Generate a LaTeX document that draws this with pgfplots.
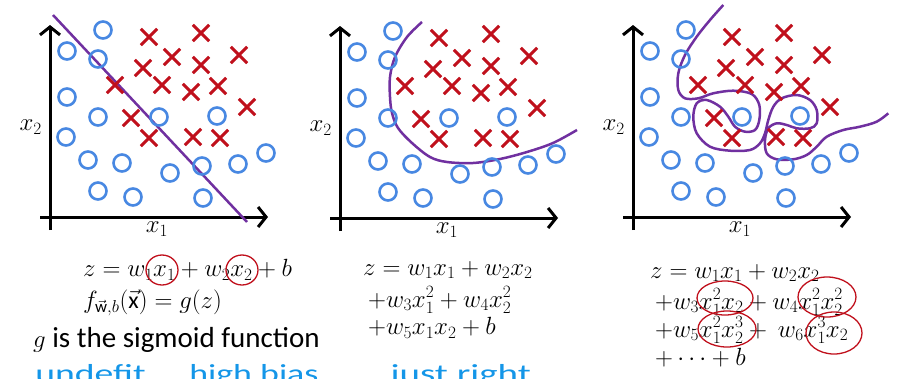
\documentclass[border=0pt]{standalone}
\usepackage{fontspec}
\setmainfont{Carlito}
\usepackage{pgfplots}
\usepackage{pgfplotstable}
\pgfplotsset{compat=1.18}
\usetikzlibrary{arrows.meta}

\definecolor{cblue}{RGB}{72,136,226}
\definecolor{cred}{RGB}{192,16,28}
\definecolor{cpurple}{RGB}{112,48,160}
\definecolor{hblue}{RGB}{20,150,232}

\pgfplotstableread{
x y
53 187
17 166
48 158
17 120
48 100
109 100
167 101
16 80
38 57
72 54
120 44
152 51
188 53
216 64
48 26
83 20
153 19
}\circles

\pgfplotstableread{
x y
99 180
151 184
122 160
93 149
151 152
189 162
65 132
112 132
141 125
168 131
197 110
81 99
99 79
143 80
170 79
}\crosses

\pgfplotsset{
  panel/.style={
    x=1pt, y=1pt,
    xmin=-10, xmax=218, ymin=-13, ymax=192,
    enlargelimits=false,
    axis lines=middle,
    axis line style={line width=3pt, -{Straight Barb[length=8pt,width=20pt]}},
    xtick=\empty, ytick=\empty,
    clip=false,
    anchor=origin,
    xlabel={$x_1$}, ylabel={$x_2$},
    xlabel style={at={(axis cs:107,-5)}, anchor=north, inner sep=0pt, font=\fontsize{24}{28}\selectfont},
    ylabel style={at={(axis cs:-8,90)}, anchor=east, rotate=0, inner sep=0pt, font=\fontsize{24}{28}\selectfont},
  },
  circ/.style={only marks, mark=o, mark size=8.5pt, line width=2.6pt, cblue},
  cros/.style={only marks, mark=x, mark size=11.5pt, line width=3pt, cred},
  bound/.style={no marks, cpurple, line width=2.5pt, smooth, tension=0.55},
}

\begin{document}
\begin{tikzpicture}
\useasboundingbox (0,0) rectangle (907pt,-378pt);
\clip (0,0) rectangle (907pt,-378pt);

% Panel 1
\begin{axis}[panel, at={(50pt,-217pt)}]
\addplot[circ] table {\circles};
\addplot[cros] table {\crosses};
\addplot[no marks, cpurple, line width=2.5pt] coordinates {(3,202) (197,-5)};
\end{axis}

% Panel 2
\begin{axis}[panel, at={(340pt,-218pt)}]
\addplot[circ] table {\circles};
\addplot[cros] table {\crosses};
\addplot[bound] coordinates {
(82,196) (67,181) (55,161) (50,141) (50,121) (52,105) (58,90) (72,75)
(90,61) (107,56) (133,55) (160,59) (187,66) (213,75) (237,88)};
\end{axis}

% Panel 3
\begin{axis}[panel, at={(633pt,-217pt)}]
\addplot[circ] table {\circles};
\addplot[cros] table {\crosses};
\addplot[bound] coordinates {
(90.3,212) (77,197) (63.7,180.3) (52,162) (45.3,143.7) (45.3,127) (52,118.7)
(65.3,118.7) (80.3,123.7) (100.3,126.3) (118.7,123) (126.3,112) (126.3,97)
(122,87) (112,85.3) (102,90.3) (95.3,100.3) (87,110.3) (73.7,117) (63.7,113.7)
(60.3,100.3) (63.7,83.7) (77,70.3) (97,66.3) (117,67) (127,73.7) (132,83.7)
(135.3,97) (140.3,110.3) (148.7,118.7) (163.7,122) (177,117) (183.7,107)
(183.7,93.7) (177,88.7) (163.7,88.7) (153.7,92) (143.7,93.7) (135.3,88.7)
(132,77) (133.7,63.7) (143.7,57.7) (160.3,57.7) (173.7,62) (183.7,70.3)
(193.7,80.3) (210.3,87) (227,90.3) (243.7,95.3) (255.3,103.7)};
\end{axis}

% Equations
\begin{scope}[every node/.style={anchor=west, inner sep=0pt, font=\fontsize{24}{28}\selectfont}]
\node at (83pt,-270pt) {$z = w_1x_1 + w_2x_2 + b$};
\node at (83pt,-303pt) {$f_{\vec{\mathrm{w}},b}(\vec{\mathrm{x}}) = g(z)$};
\node[font=\fontsize{29}{33}\selectfont] at (33pt,-340pt) {$g$ is the sigmoid function};

\node at (363pt,-270pt) {$z = w_1x_1 + w_2x_2$};
\node at (368pt,-300pt) {$+w_3x_1^2 + w_4x_2^2$};
\node at (368pt,-328pt) {$+w_5x_1x_2 + b$};

\node at (650pt,-273pt) {$z = w_1x_1 + w_2x_2$};
\node at (655pt,-302pt) {$+w_3x_1^2x_2 + w_4x_1^2x_2^2$};
\node at (655pt,-330pt) {$+w_5x_1^2x_2^3 + \ w_6x_1^3x_2$};
\node at (655pt,-358pt) {$+\cdots+b$};
\end{scope}

% hand-drawn red annotations
\begin{scope}[cred, line width=1.3pt]
\draw (162pt,-270pt) ellipse (16pt and 15pt);
\draw (242pt,-270pt) ellipse (16pt and 15pt);
\draw (725pt,-298pt) ellipse (28pt and 17pt);
\draw (827pt,-297pt) ellipse (29pt and 20pt);
\draw (727pt,-329pt) ellipse (29pt and 18pt);
\draw (834pt,-333pt) ellipse (28pt and 21pt);
\end{scope}

% handwritten blue notes (cut off at bottom)
\begin{scope}[every node/.style={anchor=base west, inner sep=0pt, hblue, font=\fontsize{26}{30}\selectfont}]
\node[xscale=1.45] at (35pt,-382pt) {undefit};
\node[xscale=1.38] at (189pt,-382pt) {high bias};
\node[xscale=1.5] at (390pt,-382pt) {just right};
\end{scope}
\end{tikzpicture}
\end{document}
